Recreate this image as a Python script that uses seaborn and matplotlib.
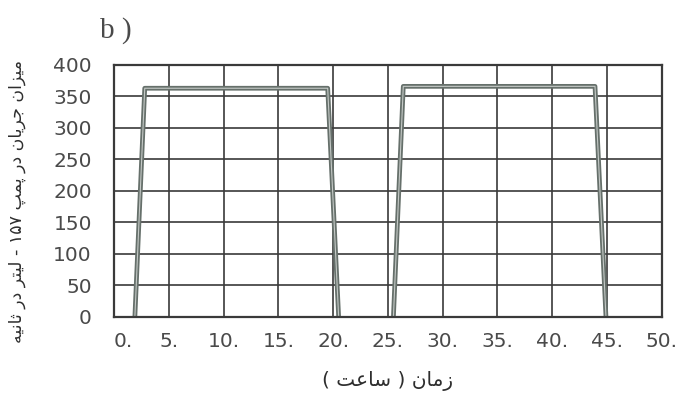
import matplotlib
matplotlib.use("Agg")
import matplotlib.pyplot as plt
import seaborn as sns
import pandas as pd

# Pump 157 discharge over time: two pumping runs
run_id = [1, 1, 1, 1, 2, 2, 2, 2]
hours = [1.9, 2.8, 19.5, 20.5, 25.5, 26.4, 43.9, 44.9]
flow = [0, 363, 363, 0, 0, 366, 366, 0]

x_ticks = [0, 5, 10, 15, 20, 25, 30, 35, 40, 45, 50]
x_tick_labels = [f"{v}." for v in x_ticks]
y_ticks = [0, 50, 100, 150, 200, 250, 300, 350, 400]

panel_tag = "b )"
y_title = "میزان جریان در پمپ ۱۵۷ - لیتر در ثانیه"
x_title = "زمان ( ساعت )"

# Arabic-script glyph forms: (isolated, final, initial, medial)
FORMS = {
    "ا": ("\uFE8D", "\uFE8E", None, None),
    "آ": ("\uFE81", "\uFE82", None, None),
    "د": ("\uFEA9", "\uFEAA", None, None),
    "ذ": ("\uFEAB", "\uFEAC", None, None),
    "ر": ("\uFEAD", "\uFEAE", None, None),
    "ز": ("\uFEAF", "\uFEB0", None, None),
    "ژ": ("\uFB8A", "\uFB8B", None, None),
    "و": ("\uFEED", "\uFEEE", None, None),
    "ب": ("\uFE8F", "\uFE90", "\uFE91", "\uFE92"),
    "پ": ("\uFB56", "\uFB57", "\uFB58", "\uFB59"),
    "ت": ("\uFE95", "\uFE96", "\uFE97", "\uFE98"),
    "ث": ("\uFE99", "\uFE9A", "\uFE9B", "\uFE9C"),
    "ج": ("\uFE9D", "\uFE9E", "\uFE9F", "\uFEA0"),
    "ح": ("\uFEA1", "\uFEA2", "\uFEA3", "\uFEA4"),
    "خ": ("\uFEA5", "\uFEA6", "\uFEA7", "\uFEA8"),
    "س": ("\uFEB1", "\uFEB2", "\uFEB3", "\uFEB4"),
    "ش": ("\uFEB5", "\uFEB6", "\uFEB7", "\uFEB8"),
    "ع": ("\uFEC9", "\uFECA", "\uFECB", "\uFECC"),
    "ف": ("\uFED1", "\uFED2", "\uFED3", "\uFED4"),
    "ق": ("\uFED5", "\uFED6", "\uFED7", "\uFED8"),
    "ل": ("\uFEDD", "\uFEDE", "\uFEDF", "\uFEE0"),
    "م": ("\uFEE1", "\uFEE2", "\uFEE3", "\uFEE4"),
    "ن": ("\uFEE5", "\uFEE6", "\uFEE7", "\uFEE8"),
    "ه": ("\uFEE9", "\uFEEA", "\uFEEB", "\uFEEC"),
    "ی": ("\uFBFC", "\uFBFD", "\uFBFE", "\uFBFF"),
}
MIRROR = {"(": ")", ")": "("}


def shape_word(word):
    """Return a word in visual (left-to-right) order with contextual letter forms."""
    chars = list(word)
    if not any(c in FORMS for c in chars):
        return word
    out = []
    for i, c in enumerate(chars):
        if c not in FORMS:
            out.append(c)
            continue
        prev = chars[i - 1] if i > 0 else None
        nxt = chars[i + 1] if i + 1 < len(chars) else None
        iso, fin, ini, med = FORMS[c]
        joins_prev = prev in FORMS and FORMS[prev][2] is not None
        joins_next = nxt in FORMS and ini is not None
        if joins_prev and joins_next:
            out.append(med)
        elif joins_prev:
            out.append(fin)
        elif joins_next:
            out.append(ini)
        else:
            out.append(iso)
    return "".join(reversed(out))


def rtl_visual(text):
    """Lay out a right-to-left line as a left-to-right glyph string."""
    tokens = text.split()
    return " ".join(MIRROR.get(t, shape_word(t)) for t in reversed(tokens))


df = pd.DataFrame({"run": run_id, "hours": hours, "flow": flow})

sns.set_theme(style="white")
plt.rcParams["font.family"] = ["DejaVu Sans"]

ink = "#3a3a3a"
fig = plt.figure(figsize=(6.83, 3.96), dpi=100)
ax = fig.add_axes([0.167, 0.200, 0.802, 0.636])

ax.grid(True, color=ink, linewidth=1.2)
ax.set_axisbelow(True)

sns.lineplot(data=df, x="hours", y="flow", units="run", estimator=None,
             sort=False, color="#66706b", linewidth=3.4, ax=ax, legend=False)
sns.lineplot(data=df, x="hours", y="flow", units="run", estimator=None,
             sort=False, color="#c4c9c6", linewidth=0.8, ax=ax, legend=False)
for ln in ax.lines:
    ln.set_solid_joinstyle("round")
    ln.set_solid_capstyle("butt")

ax.set_xlim(0, 50)
ax.set_ylim(0, 400)
ax.set_xticks(x_ticks)
ax.set_xticklabels(x_tick_labels)
ax.set_yticks(y_ticks)
ax.tick_params(axis="both", length=0, labelsize=14.5, labelcolor="#4a4a4a")
ax.tick_params(axis="x", pad=11)
ax.tick_params(axis="y", pad=16)
ax.get_xticklabels()[0].set_horizontalalignment("left")
ax.set_xlabel("")
ax.set_ylabel("")
for sp in ax.spines.values():
    sp.set_visible(True)
    sp.set_color(ink)
    sp.set_linewidth(1.6)

fig.text(0.170, 0.924, panel_tag, family="Liberation Serif", fontsize=21,
         color="#4a4a4a", ha="center", va="center")
fig.text(0.568, 0.038, rtl_visual(x_title), fontsize=14.5, color="#2e2e2e",
         ha="center", va="center")
fig.text(0.025, 0.490, rtl_visual(y_title), fontsize=12.5, color="#2e2e2e",
         ha="center", va="center", rotation=90)

fig.savefig("out.png", dpi=100, facecolor="white")
